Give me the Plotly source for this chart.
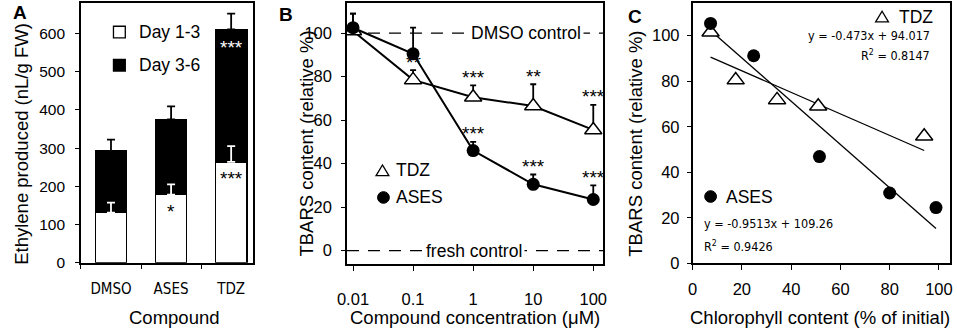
import numpy as np
import plotly.graph_objects as go

W, H = 957, 331

# ---------------- data ----------------
# Panel A: ethylene production (stacked)
compounds = ["DMSO", "ASES", "TDZ"]
day13 = [131, 178, 264]
day13_err = [26, 27, 41]
day36 = [161, 197, 347]
day36_err = [30, 34, 41]
stars_day13 = ["", "*", "***"]
stars_day36 = ["", "", "***"]
a_yticks = [0, 100, 200, 300, 400, 500, 600]

# Panel B: TBARS vs concentration
conc = [0.01, 0.1, 1, 10, 100]
conc_labels = ["0.01", "0.1", "1", "10", "100"]
tdz_b = [101, 78.5, 70.5, 66.5, 55.5]
tdz_b_err = [8, 4.5, 5.5, 10, 11.5]
tdz_b_stars = ["", "**", "***", "**", "***"]
ases_b = [102.5, 90.5, 46, 30.5, 23.5]
ases_b_err = [6.5, 12, 4, 4.5, 6.5]
ases_b_stars = ["", "", "***", "***", "***"]
control_levels = [100, 0]
control_names = ["DMSO control", "fresh control"]
b_yticks = [0, 20, 40, 60, 80, 100]

# Panel C: TBARS vs chlorophyll
tdz_c_x = [7.3, 17.5, 34.3, 51, 94]
tdz_c_y = [101.5, 80.5, 71.8, 69, 55.8]
ases_c_x = [7.3, 24.8, 51.5, 80, 98.8]
ases_c_y = [105.4, 91.2, 46.9, 30.9, 24.5]
tdz_fit = (-0.473, 94.017, 0.8147)
ases_fit = (-0.9513, 109.26, 0.9426)
c_ticks = [0, 20, 40, 60, 80, 100]

# ---------------- helpers ----------------
def px(x):
    return x / W

def py(y):
    return 1 - y / H

FONT = "Liberation Sans, Arial, sans-serif"
NARROW = "Liberation Sans Narrow, DejaVu Sans Condensed, Liberation Sans, sans-serif"

fig = go.Figure()

# ---------------- Panel A ----------------
fig.add_trace(go.Bar(x=compounds, y=day13, width=0.52,
                     marker=dict(color="white", line=dict(color="black", width=1.5)),
                     xaxis="x", yaxis="y", showlegend=False))
fig.add_trace(go.Bar(x=compounds, y=day36, width=0.52,
                     marker=dict(color="black", line=dict(color="black", width=1.5)),
                     xaxis="x", yaxis="y", showlegend=False))
totals = [a + b for a, b in zip(day13, day36)]
fig.add_trace(go.Scatter(x=compounds, y=day13, mode="markers",
                         marker=dict(size=1, opacity=0),
                         error_y=dict(type="data", array=day13_err, arrayminus=[0] * 3,
                                      symmetric=False, color="white", thickness=1.8, width=4),
                         xaxis="x", yaxis="y", showlegend=False, hoverinfo="skip"))
fig.add_trace(go.Scatter(x=compounds, y=totals, mode="markers",
                         marker=dict(size=1, opacity=0),
                         error_y=dict(type="data", array=day36_err, arrayminus=[0] * 3,
                                      symmetric=False, color="black", thickness=1.8, width=4),
                         xaxis="x", yaxis="y", showlegend=False, hoverinfo="skip"))

annotations = []
for c, v, s in zip(compounds, day13, stars_day13):
    if s:
        annotations.append(dict(x=c, y=v, xref="x", yref="y", text=s, showarrow=False,
                                xanchor="center", yanchor="middle", yshift=-17,
                                font=dict(family=FONT, size=19, color="black")))
for c, v, s in zip(compounds, totals, stars_day36):
    if s:
        annotations.append(dict(x=c, y=v, xref="x", yref="y", text=s, showarrow=False,
                                xanchor="center", yanchor="middle", yshift=-18,
                                font=dict(family=FONT, size=19, color="white")))

# ---------------- Panel B ----------------
for lvl, name, xpos in zip(control_levels, control_names, [0.70, 0.495]):
    fig.add_shape(type="line", xref="x2 domain", yref="y2", x0=0, x1=1, y0=lvl, y1=lvl,
                  line=dict(color="black", width=1.3, dash="12px,9px"), layer="below")
    annotations.append(dict(x=xpos, y=lvl, xref="x2 domain", yref="y2", text=name,
                            showarrow=False, bgcolor="white", borderpad=2,
                            xanchor="center", yanchor="middle",
                            font=dict(family=FONT, size=17.5, color="black")))

fig.add_trace(go.Scatter(x=conc, y=tdz_b, mode="lines+markers",
                         line=dict(color="black", width=2),
                         marker=dict(symbol="triangle-up", size=15, color="white",
                                     line=dict(color="black", width=1.5)),
                         error_y=dict(type="data", array=tdz_b_err, arrayminus=[0] * 5,
                                      symmetric=False, color="black", thickness=1.8, width=3),
                         xaxis="x2", yaxis="y2", showlegend=False))
fig.add_trace(go.Scatter(x=conc, y=ases_b, mode="lines+markers",
                         line=dict(color="black", width=2),
                         marker=dict(symbol="circle", size=13, color="black"),
                         error_y=dict(type="data", array=ases_b_err, arrayminus=[0] * 5,
                                      symmetric=False, color="black", thickness=1.8, width=3),
                         xaxis="x2", yaxis="y2", showlegend=False))
for vals, errs, stars in [(tdz_b, tdz_b_err, tdz_b_stars), (ases_b, ases_b_err, ases_b_stars)]:
    for c, v, e, s in zip(conc, vals, errs, stars):
        if s:
            annotations.append(dict(x=np.log10(c), y=v + e, xref="x2", yref="y2", text=s,
                                    showarrow=False, xanchor="center", yanchor="middle",
                                    yshift=8,
                                    font=dict(family=FONT, size=19, color="black")))

# ---------------- Panel C ----------------
for xs, (m, b, r2) in [(tdz_c_x, tdz_fit), (ases_c_x, ases_fit)]:
    fx = np.array([min(xs), max(xs)])
    fig.add_trace(go.Scatter(x=fx, y=m * fx + b, mode="lines",
                             line=dict(color="black", width=1.3),
                             xaxis="x3", yaxis="y3", showlegend=False, hoverinfo="skip"))
fig.add_trace(go.Scatter(x=tdz_c_x, y=tdz_c_y, mode="markers",
                         marker=dict(symbol="triangle-up", size=15, color="white",
                                     line=dict(color="black", width=1.5)),
                         xaxis="x3", yaxis="y3", showlegend=False))
fig.add_trace(go.Scatter(x=ases_c_x, y=ases_c_y, mode="markers",
                         marker=dict(symbol="circle", size=13, color="black"),
                         xaxis="x3", yaxis="y3", showlegend=False))

# ---------------- legends (keys as shapes, labels as text) ----------------
def tri(cx, cy, w=13, h=11):
    return (f"M {px(cx - w/2)} {py(cy + h/2)} L {px(cx + w/2)} {py(cy + h/2)} "
            f"L {px(cx)} {py(cy - h/2)} Z")

shapes_leg = [
    dict(type="rect", xref="paper", yref="paper", x0=px(105), x1=px(117), y0=py(39), y1=py(27),
         line=dict(color="black", width=1.3), fillcolor="white"),
    dict(type="rect", xref="paper", yref="paper", x0=px(105), x1=px(117), y0=py(73), y1=py(61),
         line=dict(color="black", width=1.3), fillcolor="black"),
    dict(type="path", xref="paper", yref="paper", path=tri(378, 175),
         line=dict(color="black", width=1.3), fillcolor="white"),
    dict(type="circle", xref="paper", yref="paper", x0=px(373), x1=px(385), y0=py(209), y1=py(197),
         line=dict(color="black", width=1), fillcolor="black"),
    dict(type="path", xref="paper", yref="paper", path=tri(885, 17),
         line=dict(color="black", width=1.3), fillcolor="white"),
    dict(type="circle", xref="paper", yref="paper", x0=px(705), x1=px(717), y0=py(208), y1=py(196),
         line=dict(color="black", width=1), fillcolor="black"),
]
for s in shapes_leg:
    fig.add_shape(**s)

def label(x, y, text, size=17, anchor="left", family=FONT, bold=False):
    annotations.append(dict(x=px(x), y=py(y), xref="paper", yref="paper",
                            text=f"<b>{text}</b>" if bold else text, showarrow=False,
                            xanchor=anchor, yanchor="middle",
                            font=dict(family=family, size=size, color="black")))

label(129, 33, "Day 1-3", size=17.5)
label(129, 67, "Day 3-6", size=17.5)
label(390, 175, "TDZ", size=17.5)
label(390, 203, "ASES", size=17.5)
label(900, 17, "TDZ", size=17.5)
label(725, 202, "ASES", size=17.5)
label(936, 37, f"y = {tdz_fit[0]}x + {tdz_fit[1]}", size=12.5, anchor="right", family=NARROW)
label(936, 57, f"R<sup>2</sup> = {tdz_fit[2]}", size=12.5, anchor="right", family=NARROW)
label(702, 230, f"y = {ases_fit[0]}x + {ases_fit[1]}", size=12.5, family=NARROW)
label(702, 253, f"R<sup>2</sup> = {ases_fit[2]}", size=12.5, family=NARROW)

# panel letters
label(10, 13, "A", size=19, anchor="center", bold=True)
label(280, 15, "B", size=19, anchor="center", bold=True)
label(634, 17, "C", size=19, anchor="center", bold=True)

# axis titles
label(167, 326, "Compound", size=18.5, anchor="center")
label(472, 326, "Compound concentration (\u03bcM)", size=18.5, anchor="center")
label(822, 326, "Chlorophyll content (% of initial)", size=18.5, anchor="center")
for x, t in [(12, "Ethylene produced (nL/g FW)"), (301, "TBARS content (relative %)"),
             (635, "TBARS content (relative %)")]:
    annotations.append(dict(x=px(x), y=py(148), xref="paper", yref="paper", text=t,
                            showarrow=False, textangle=-90, xanchor="center", yanchor="middle",
                            font=dict(family=FONT, size=18.5, color="black")))

# ---------------- axes ----------------
common = dict(showgrid=False, zeroline=False, showline=True, mirror=True, linecolor="black",
              linewidth=1.5, ticks="outside", tickcolor="black", tickwidth=1.3,
              tickfont=dict(family=FONT, size=16.5, color="black"))

fig.update_layout(
    width=W, height=H, margin=dict(l=0, r=0, t=0, b=0),
    paper_bgcolor="white", plot_bgcolor="white", barmode="stack", showlegend=False,
    xaxis=dict(common, domain=[px(72), px(247)], type="category", range=[-0.5, 2.37],
               tickson="boundaries", ticklen=5, ticklabelstandoff=12,
               tickfont=dict(family=NARROW, size=15, color="black"), anchor="y"),
    yaxis=dict(common, domain=[py(270), py(3)], range=[0, 680], tickvals=a_yticks, ticklen=4,
               ticklabelstandoff=7,
               tickfont=dict(family=FONT, size=15.5, color="black"), anchor="x"),
    xaxis2=dict(common, domain=[px(342), px(602)], type="log", range=[-2.1, 2.165],
                tickvals=conc, ticktext=conc_labels, ticklen=5, ticklabelstandoff=14,
                anchor="y2"),
    yaxis2=dict(common, domain=[py(271.7), py(3)], range=[-6.3, 113.9], tickvals=b_yticks,
                ticklen=4, ticklabelstandoff=6, anchor="x2"),
    xaxis3=dict(common, domain=[px(692.7), px(954)], range=[0, 104.5], tickvals=c_ticks,
                ticklen=5, ticklabelstandoff=5, anchor="y3"),
    yaxis3=dict(common, domain=[py(270.7), py(3)], range=[0, 114.4], tickvals=c_ticks,
                ticklen=4, ticklabelstandoff=4, anchor="x3"),
    annotations=annotations,
)

fig.write_html("out.html", post_script="document.body.style.margin='0px';",
               config={"displayModeBar": False})
